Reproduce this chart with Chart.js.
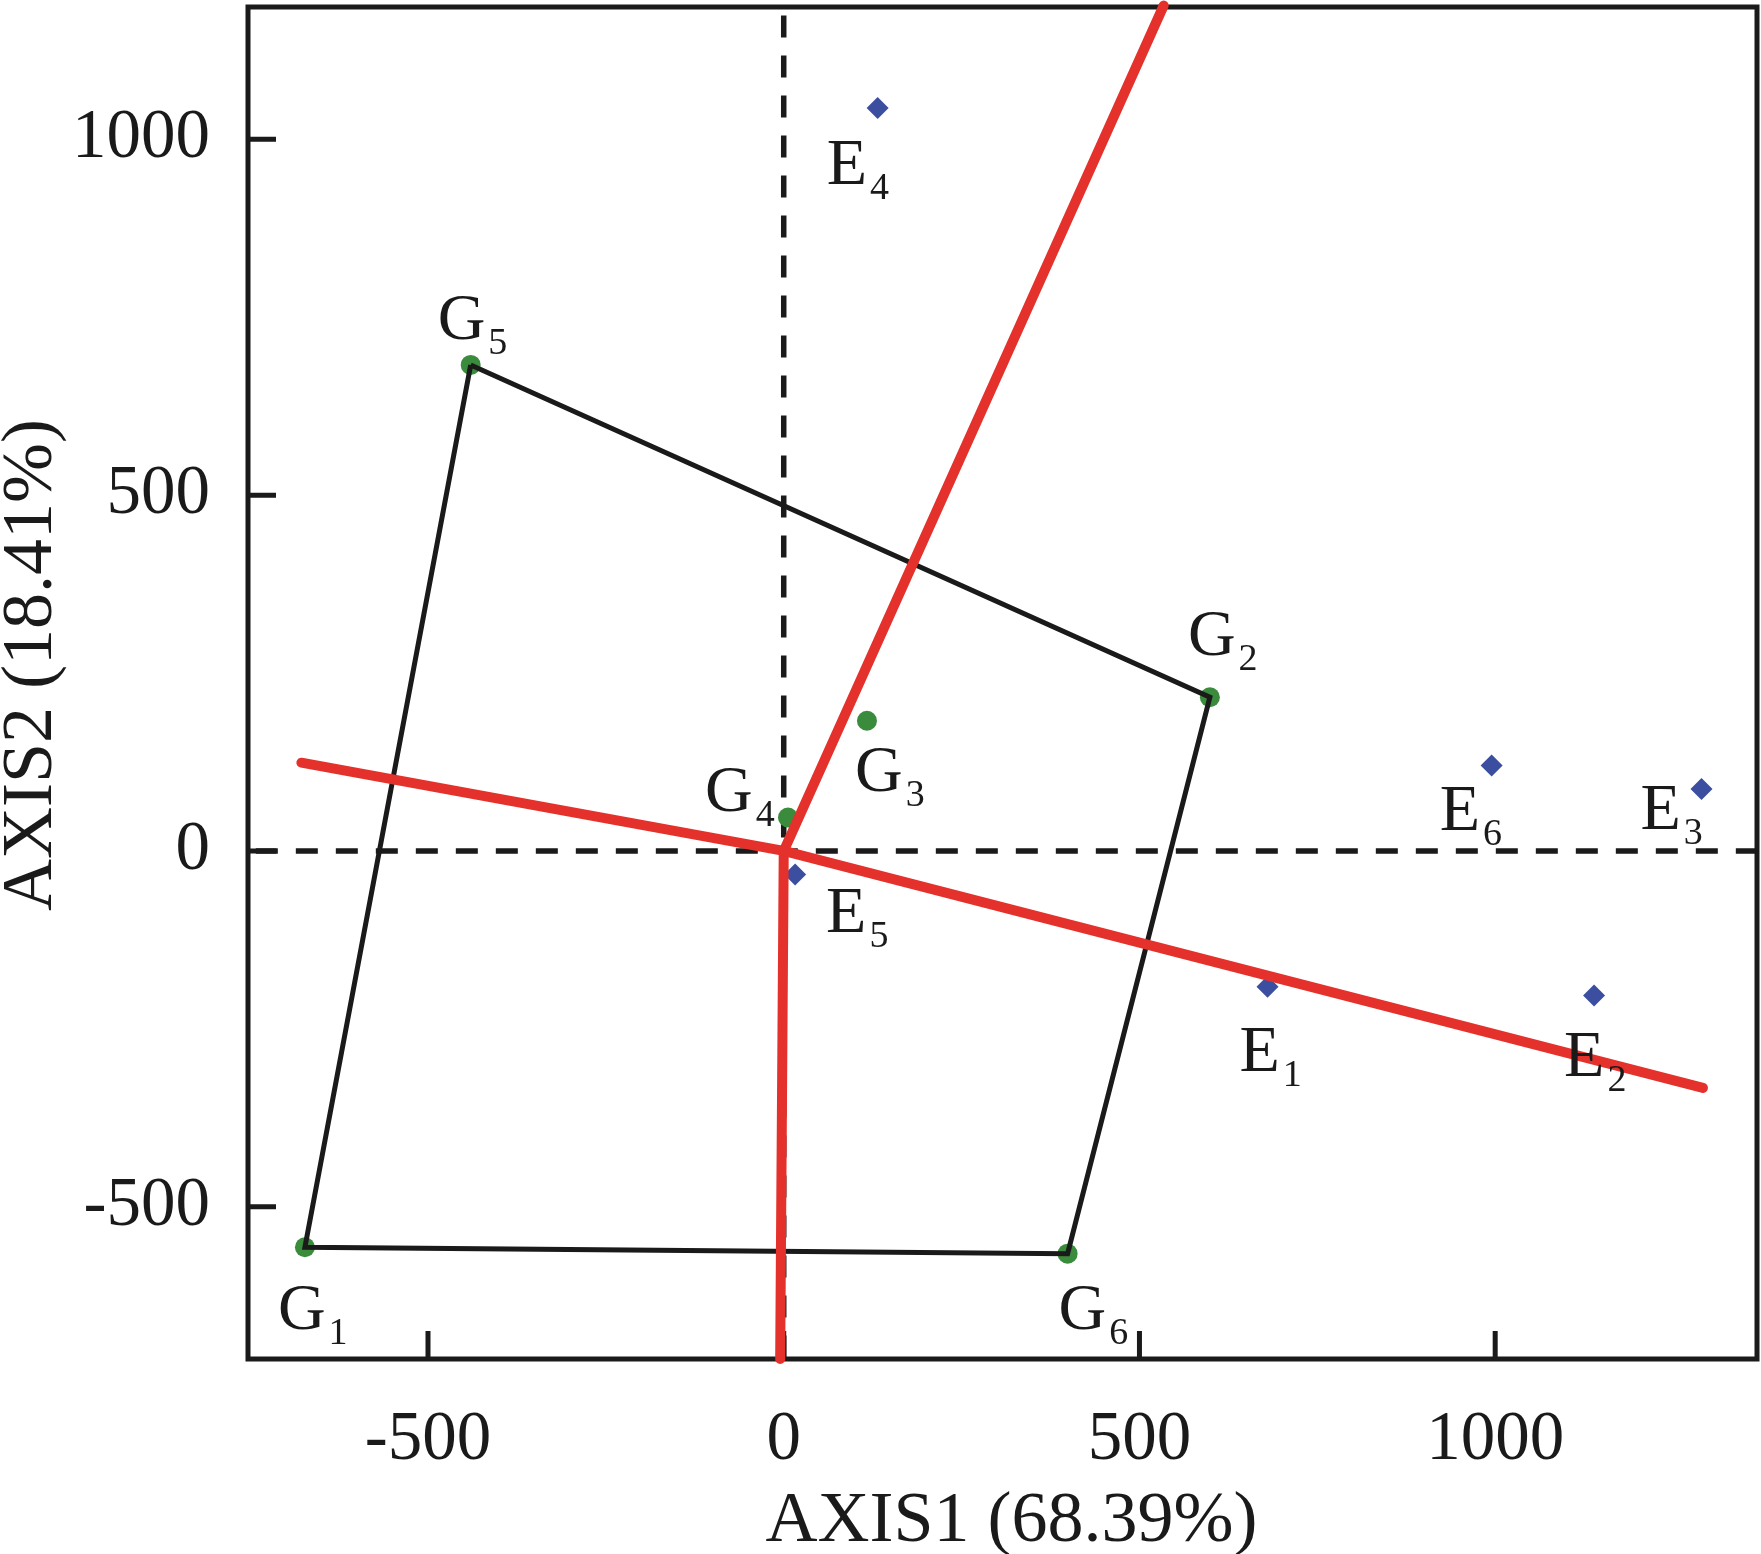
<!DOCTYPE html>
<html><head><meta charset="utf-8">
<script src="https://cdn.jsdelivr.net/npm/chart.js@4.4.1/dist/chart.umd.min.js"></script>
<style>html,body{margin:0;padding:0;background:#fff;}canvas{display:block;}</style>
</head><body>
<canvas id="c" width="1761" height="1554"></canvas>
<script>
// ---- data ----
const genotypes = ['G1','G2','G3','G4','G5','G6'];
const genoX = [-673, 599, 117, 6, -440, 399];
const genoY = [-557, 216, 183, 47, 683, -566];
const environments = ['E1','E2','E3','E4','E5','E6'];
const envX = [680, 1139, 1290, 132, 16, 995];
const envY = [-191, -203, 87, 1044, -33, 120];
const hullOrder = ['G5','G2','G6','G1','G5'];
const rayEndX = [534, -678, 1292, -5];
const rayEndY = [1188, 124, -333, -714];
const xTicks = [-500, 0, 500, 1000];
const yTicks = [-500, 0, 500, 1000];
const xRange = [-753, 1368];
const yRange = [-714, 1186];
const xTitle = 'AXIS1 (68.39%)';
const yTitle = 'AXIS2 (18.41%)';

// ---- styling ----
const FONT = '"Liberation Serif", "Times New Roman", serif';
const INK = '#1a1a1a';
const RED = '#e5312b';
const GREEN = '#3a8b3c';
const BLUE = '#3c4ea0';
const labelOffsets = {
  G1:[-27,82], G2:[-22,-42], G3:[-12,70], G4:[-83,-6], G5:[-33,-26], G6:[-9,75],
  E1:[-28,84], E2:[-30,81], E3:[-61,40], E4:[-51,76], E5:[31,58], E6:[-52,64]
};

const genoPts = genotypes.map((g,i)=>({x:genoX[i], y:genoY[i]}));
const envPts = environments.map((e,i)=>({x:envX[i], y:envY[i]}));
const hullPts = hullOrder.map(g=>genoPts[genotypes.indexOf(g)]);

const datasets = [];
rayEndX.forEach((vx,i)=>{
  datasets.push({
    label:'ray'+i, data:[{x:0,y:0},{x:vx,y:rayEndY[i]}], showLine:true,
    borderColor:RED, borderWidth:10, borderCapStyle:'round', pointRadius:0, clip:false
  });
});
datasets.push({label:'hull', data:hullPts, showLine:true, borderColor:INK, borderWidth:5,
  borderJoinStyle:'miter', pointRadius:0});
datasets.push({label:'E', data:envPts, pointStyle:'rectRot', pointRadius:11,
  backgroundColor:BLUE, borderWidth:0});
datasets.push({label:'G', data:genoPts, pointStyle:'circle', pointRadius:10,
  backgroundColor:GREEN, borderWidth:0});
datasets.push({label:'h0', data:[{x:-742,y:0},{x:xRange[1],y:0}], showLine:true,
  borderColor:INK, borderWidth:5.5, borderDash:[22,18], pointRadius:0});
datasets.push({label:'v0', data:[{x:0,y:1174},{x:0,y:yRange[0]}], showLine:true,
  borderColor:INK, borderWidth:5.5, borderDash:[22,18], pointRadius:0});

const frame = {
  id:'frame',
  beforeDatasetsDraw(chart){
    const {ctx, chartArea:a, scales:{x,y}} = chart;
    ctx.save();
    ctx.strokeStyle = INK; ctx.lineWidth = 5; ctx.lineCap='butt';
    ctx.strokeRect(a.left, a.top, a.right-a.left, a.bottom-a.top);
    ctx.beginPath();
    xTicks.forEach(v=>{const p=x.getPixelForValue(v); ctx.moveTo(p,a.bottom); ctx.lineTo(p,a.bottom-28);});
    yTicks.forEach(v=>{const p=y.getPixelForValue(v); ctx.moveTo(a.left,p); ctx.lineTo(a.left+28,p);});
    ctx.stroke();
    ctx.restore();
  },
  afterDatasetsDraw(chart){
    const {ctx, chartArea:a, scales:{x,y}} = chart;
    ctx.save();
    ctx.fillStyle = INK; ctx.textAlign='left'; ctx.textBaseline='alphabetic';
    const draw = (name, vx, vy) => {
      const px = x.getPixelForValue(vx), py = y.getPixelForValue(vy);
      const [dx,dy] = labelOffsets[name];
      ctx.font = '66px ' + FONT;
      ctx.fillText(name[0], px+dx, py+dy);
      const w = ctx.measureText(name[0]).width;
      ctx.font = '38px ' + FONT;
      ctx.fillText(name.slice(1), px+dx+w+3, py+dy+15);
    };
    genotypes.forEach((g,i)=>draw(g, genoX[i], genoY[i]));
    environments.forEach((e,i)=>draw(e, envX[i], envY[i]));
    // axis titles
    ctx.font = '72px ' + FONT;
    ctx.textAlign = 'center'; ctx.textBaseline = 'alphabetic';
    ctx.fillText(xTitle, (a.left+a.right)/2 + 9, chart.height - 13);
    ctx.translate(51, (a.top+a.bottom)/2 - 18);
    ctx.rotate(-Math.PI/2);
    ctx.fillText(yTitle, 0, 0);
    ctx.restore();
  }
};

new Chart(document.getElementById('c'), {
  type:'scatter',
  data:{datasets},
  options:{
    responsive:false, animation:false, events:[],
    layout:{autoPadding:false, padding:{top:7,right:4,left:0,bottom:0}},
    plugins:{legend:{display:false}, tooltip:{enabled:false}},
    scales:{
      x:{type:'linear', position:'bottom', min:xRange[0], max:xRange[1],
        grid:{display:false, drawTicks:false}, border:{display:false},
        afterBuildTicks:s=>{s.ticks = xTicks.map(v=>({value:v}));},
        afterFit:s=>{s.height = 195; s.paddingLeft = 0; s.paddingRight = 0;},
        ticks:{color:INK, padding:40, maxRotation:0, font:{family:FONT, size:69, lineHeight:1.2},
          callback:v=>String(v)},
        title:{display:false, text:xTitle}
      },
      y:{type:'linear', position:'left', min:yRange[0], max:yRange[1],
        grid:{display:false, drawTicks:false}, border:{display:false},
        afterBuildTicks:s=>{s.ticks = yTicks.map(v=>({value:v}));},
        afterFit:s=>{s.width = 248; s.paddingTop = 0; s.paddingBottom = 0;},
        ticks:{color:INK, padding:38, font:{family:FONT, size:69, lineHeight:1.2},
          callback:v=>String(v)},
        title:{display:false, text:yTitle}
      }
    }
  },
  plugins:[frame]
});
</script>
</body></html>
